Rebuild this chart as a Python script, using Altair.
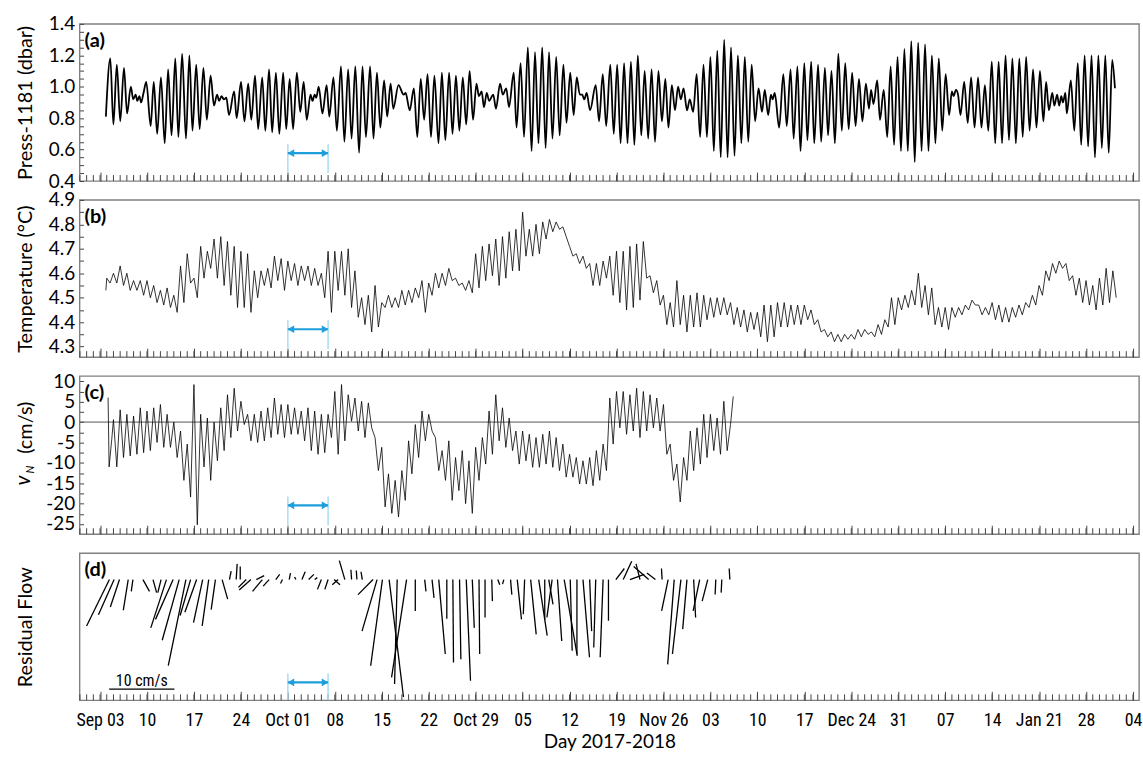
import altair as alt
import pandas as pd

# ---------------------------------------------------------------------------
# Time is counted in days after 3 Sep 2017 00:00 (first labelled Sunday).
# ---------------------------------------------------------------------------
X_DOMAIN = [-3.05, 154.9]
WEEK_TICKS = list(range(0, 155, 7))
WEEK_LABELS = ["Sep 03", "10", "17", "24", "Oct 01", "08", "15", "22", "Oct 29",
               "05", "12", "19", "Nov 26", "03", "10", "17", "Dec 24", "31",
               "07", "14", "Jan 21", "28", "04"]
DAY_TICKS = list(range(-3, 155))

# (a) bottom pressure, successive turning points (day, dbar)
PRESS = [
    (0.87, 0.81), (1.53, 1.18), (1.99, 0.76), (2.50, 1.14), (3.01, 0.78), (3.57, 1.12), (4.03, 0.83),
    (4.59, 1.00), (4.95, 0.92), (5.31, 0.95), (5.56, 0.91), (5.87, 0.94), (6.12, 0.90), (6.48, 0.96),
    (6.89, 1.03), (7.55, 0.75), (8.01, 1.03), (8.52, 0.70), (9.08, 1.06), (9.64, 0.64), (10.15, 1.11),
    (10.66, 0.69), (11.22, 1.18), (11.68, 0.68), (12.24, 1.21), (12.81, 0.67), (13.32, 1.20), (13.78, 0.72),
    (14.34, 1.14), (14.85, 0.73), (15.41, 1.12), (15.92, 0.79), (16.48, 1.07), (16.99, 0.88), (17.45, 0.95),
    (17.76, 0.91), (18.11, 0.94), (18.47, 0.92), (18.83, 0.93), (19.23, 0.82), (20.00, 0.97), (20.36, 0.80),
    (21.02, 1.03), (21.53, 0.78), (22.09, 1.02), (22.55, 0.79), (23.11, 1.07), (23.57, 0.73), (24.18, 1.06),
    (24.64, 0.72), (25.20, 1.11), (25.66, 0.71), (26.22, 1.09), (26.73, 0.70), (27.30, 1.09), (27.76, 0.73),
    (28.27, 1.05), (28.78, 0.73), (29.34, 1.09), (29.85, 0.84), (30.36, 1.03), (30.82, 0.79), (31.38, 0.95),
    (31.68, 0.91), (31.99, 0.95), (32.24, 0.93), (32.60, 1.00), (33.16, 0.83), (33.78, 1.01), (34.18, 0.81),
    (34.80, 1.06), (35.31, 0.72), (35.92, 1.13), (36.43, 0.65), (36.99, 1.11), (37.50, 0.67), (38.06, 1.13),
    (38.62, 0.58), (39.13, 1.13), (39.64, 0.68), (40.26, 1.13), (40.77, 0.67), (41.28, 1.09), (41.79, 0.74),
    (42.35, 1.04), (42.81, 0.81), (43.32, 1.02), (43.72, 0.86), (44.49, 1.01), (45.26, 0.95), (45.56, 0.96),
    (46.17, 0.85), (46.79, 0.99), (47.30, 0.68), (47.81, 1.05), (48.32, 0.79), (48.83, 1.08), (49.34, 0.68),
    (49.85, 1.07), (50.46, 0.64), (50.97, 1.09), (51.48, 0.66), (52.04, 1.09), (52.55, 0.70), (53.06, 1.07),
    (53.57, 0.72), (54.08, 1.06), (54.59, 0.76), (55.10, 1.10), (55.61, 0.79), (56.12, 1.02), (56.48, 0.94),
    (56.89, 0.97), (57.24, 0.87), (57.65, 0.96), (58.01, 0.91), (58.62, 0.95), (59.03, 0.86), (59.64, 1.02),
    (60.05, 0.95), (60.56, 0.99), (60.97, 0.87), (61.68, 1.09), (62.09, 0.74), (62.70, 1.15), (63.21, 0.68),
    (63.78, 1.25), (64.34, 0.59), (64.85, 1.22), (65.36, 0.64), (65.92, 1.25), (66.43, 0.61), (66.94, 1.22),
    (67.45, 0.67), (68.01, 1.19), (68.52, 0.69), (69.08, 1.14), (69.54, 0.77), (70.10, 1.09), (70.61, 0.82),
    (71.07, 1.06), (71.53, 0.95), (71.89, 0.95), (72.19, 0.92), (72.55, 0.96), (73.06, 0.85), (73.90, 1.01),
    (74.40, 0.78), (74.95, 1.08), (75.46, 0.75), (76.07, 1.14), (76.59, 0.70), (77.10, 1.14), (77.61, 0.64),
    (78.13, 1.15), (78.64, 0.64), (79.15, 1.16), (79.66, 0.63), (80.18, 1.20), (80.69, 0.69), (81.20, 1.10),
    (81.72, 0.67), (82.23, 1.11), (82.74, 0.65), (83.25, 1.10), (83.77, 0.78), (84.28, 1.05), (84.74, 0.74),
    (85.25, 1.01), (85.72, 0.85), (86.18, 1.00), (86.59, 0.92), (87.00, 0.99), (87.51, 0.85), (87.92, 0.92),
    (88.43, 0.84), (88.95, 1.08), (89.46, 0.68), (89.97, 1.14), (90.48, 0.68), (91.00, 1.19), (91.51, 0.59),
    (92.02, 1.23), (92.54, 0.55), (93.05, 1.30), (93.56, 0.55), (94.07, 1.25), (94.59, 0.56), (95.10, 1.20),
    (95.61, 0.64), (96.13, 1.19), (96.64, 0.65), (97.15, 1.14), (97.66, 0.78), (98.18, 0.99), (98.69, 0.84),
    (99.10, 0.98), (99.61, 0.82), (100.02, 0.95), (100.28, 0.92), (100.59, 0.96), (101.25, 0.74), (101.87, 1.08),
    (102.38, 0.75), (102.95, 1.11), (103.41, 0.67), (103.97, 1.13), (104.43, 0.59), (105.00, 1.15), (105.46, 0.66),
    (106.02, 1.16), (106.48, 0.64), (107.05, 1.14), (107.51, 0.65), (108.07, 1.12), (108.54, 0.69), (109.05, 1.10),
    (109.56, 0.64), (110.07, 1.21), (110.59, 0.72), (111.10, 1.15), (111.61, 0.73), (112.13, 1.09), (112.64, 0.75),
    (113.15, 1.05), (113.66, 0.78), (114.18, 1.02), (114.64, 0.86), (114.95, 0.98), (115.31, 0.89), (115.87, 1.04),
    (116.28, 0.79), (116.84, 0.98), (117.36, 0.68), (117.87, 1.13), (118.38, 0.63), (118.90, 1.19), (119.41, 0.59),
    (119.92, 1.24), (120.43, 0.59), (120.95, 1.29), (121.46, 0.52), (121.97, 1.28), (122.48, 0.59), (123.00, 1.27),
    (123.51, 0.59), (124.02, 1.20), (124.54, 0.64), (125.05, 1.18), (125.56, 0.72), (126.07, 1.08), (126.59, 0.82),
    (127.00, 0.97), (127.25, 0.94), (127.61, 0.98), (127.92, 0.95), (128.28, 0.82), (128.84, 1.03), (129.36, 0.77),
    (129.87, 1.06), (130.38, 0.74), (130.90, 1.06), (131.41, 0.74), (131.92, 1.01), (132.43, 0.72), (132.95, 1.16),
    (133.46, 0.64), (133.97, 1.16), (134.48, 0.64), (135.00, 1.20), (135.51, 0.66), (136.02, 1.18), (136.54, 0.64),
    (137.05, 1.18), (137.56, 0.68), (138.07, 1.19), (138.59, 0.72), (139.10, 1.11), (139.61, 0.74), (140.13, 1.10),
    (140.64, 0.78), (141.05, 1.03), (141.46, 0.85), (141.97, 0.96), (142.28, 0.88), (142.69, 0.95), (143.00, 0.88),
    (143.31, 0.94), (143.56, 0.90), (143.92, 0.96), (144.13, 0.83), (144.74, 1.04), (145.25, 0.72), (145.77, 1.15),
    (146.28, 0.63), (146.79, 1.20), (147.31, 0.62), (147.82, 1.20), (148.33, 0.55), (148.84, 1.20), (149.36, 0.61),
    (149.87, 1.20), (150.38, 0.58), (150.90, 1.17), (151.31, 0.99),
]

# (b) temperature: first sample, then daily (high, low) from day 1
TEMP_START = (0.87, 4.53)
TEMP_FIRST_DAY = 1
TEMP_DAILY = [
    (4.58, 4.56), (4.60, 4.56), (4.63, 4.55), (4.60, 4.53), (4.57, 4.53), (4.57, 4.51), (4.57, 4.50), (4.55, 4.48), (4.53, 4.47), (4.54, 4.46),
    (4.51, 4.44), (4.63, 4.48), (4.68, 4.56), (4.58, 4.50), (4.71, 4.58), (4.69, 4.62), (4.74, 4.58), (4.75, 4.55), (4.73, 4.51), (4.71, 4.46),
    (4.69, 4.46), (4.68, 4.44), (4.61, 4.50), (4.61, 4.55), (4.62, 4.54), (4.67, 4.57), (4.66, 4.53), (4.65, 4.57), (4.64, 4.55), (4.63, 4.57),
    (4.63, 4.55), (4.62, 4.55), (4.60, 4.50), (4.69, 4.44), (4.69, 4.53), (4.69, 4.51), (4.70, 4.46), (4.61, 4.42), (4.50, 4.39), (4.51, 4.36),
    (4.55, 4.38), (4.48, 4.46), (4.51, 4.46), (4.50, 4.46), (4.53, 4.47), (4.53, 4.48), (4.54, 4.50), (4.57, 4.44), (4.56, 4.51), (4.60, 4.54),
    (4.60, 4.55), (4.62, 4.57), (4.58, 4.55), (4.56, 4.53), (4.57, 4.52), (4.68, 4.54), (4.71, 4.57), (4.72, 4.59), (4.74, 4.55), (4.75, 4.58),
    (4.77, 4.61), (4.78, 4.61), (4.85, 4.67), (4.78, 4.67), (4.80, 4.68), (4.81, 4.74), (4.82, 4.77), (4.81, 4.78), (4.79, 4.75), (4.71, 4.67),
    (4.68, 4.64), (4.67, 4.62), (4.64, 4.55), (4.64, 4.55), (4.65, 4.58), (4.67, 4.51), (4.69, 4.48), (4.69, 4.45), (4.71, 4.46), (4.72, 4.49),
    (4.73, 4.58), (4.59, 4.52), (4.57, 4.47), (4.51, 4.39), (4.48, 4.38), (4.57, 4.39), (4.51, 4.36), (4.51, 4.38), (4.52, 4.38), (4.51, 4.41),
    (4.50, 4.42), (4.50, 4.43), (4.50, 4.43), (4.48, 4.39), (4.46, 4.38), (4.45, 4.36), (4.44, 4.37), (4.44, 4.34), (4.47, 4.32), (4.47, 4.34),
    (4.48, 4.38), (4.48, 4.38), (4.47, 4.39), (4.47, 4.39), (4.47, 4.41), (4.45, 4.39), (4.41, 4.36), (4.37, 4.34), (4.36, 4.32), (4.35, 4.32),
    (4.35, 4.33), (4.35, 4.33), (4.37, 4.34), (4.37, 4.35), (4.36, 4.34), (4.39, 4.35), (4.41, 4.38), (4.50, 4.39), (4.50, 4.45), (4.51, 4.46),
    (4.53, 4.47), (4.60, 4.46), (4.55, 4.43), (4.54, 4.39), (4.46, 4.38), (4.46, 4.37), (4.46, 4.42), (4.46, 4.43), (4.47, 4.45), (4.49, 4.47),
    (4.47, 4.43), (4.46, 4.43), (4.48, 4.41), (4.47, 4.40), (4.46, 4.40), (4.46, 4.42), (4.47, 4.43), (4.48, 4.46), (4.51, 4.47), (4.55, 4.51),
    (4.61, 4.57), (4.64, 4.60), (4.65, 4.62), (4.64, 4.57), (4.59, 4.51), (4.58, 4.48), (4.57, 4.47), (4.55, 4.45), (4.58, 4.47), (4.62, 4.48),
    (4.61, 4.50),
]

# (c) northward velocity: opening samples, daily (high, low) from day 2, closing samples
VN_START = [(1.20, 6.0), (1.35, -11.0), (1.75, -4.2)]
VN_FIRST_DAY = 2
VN_DAILY = [
    (0.6, -11.0), (3.0, -8.7), (1.9, -8.3), (1.5, -7.9), (3.5, -7.5), (2.7, -7.0), (3.5, -5.0), (4.3, -6.2), (1.9, -6.2),
    (0.0, -8.7), (-2.2, -14.3), (-5.4, -18.4), (9.2, -25.2), (1.9, -11.0), (1.0, -14.3), (0.0, -9.5), (3.5, -7.0), (6.7, -3.8), (8.3, -2.2),
    (5.1, -0.6), (1.9, -4.6), (1.9, -5.0), (2.7, -4.6), (3.5, -3.8), (5.9, -3.0), (4.3, -3.8), (4.3, -3.0), (3.5, -3.0), (2.7, -4.6),
    (3.5, -7.0), (2.7, -7.9), (1.9, -7.5), (1.9, -3.8), (7.5, -7.9), (9.2, -4.6), (6.7, 0.2), (5.9, -2.2), (5.1, -3.8), (4.7, -1.4),
    (-3.8, -11.9), (-6.2, -20.8), (-12.7, -22.4), (-14.3, -23.3), (-11.9, -19.2), (-4.6, -12.7), (-0.6, -8.7), (2.7, -4.6), (1.9, -2.2), (-3.8, -11.9),
    (-7.0, -14.3), (-4.6, -19.2), (-8.7, -16.8), (-7.0, -20.0), (-9.5, -22.4), (-6.2, -14.3), (-3.8, -10.3), (2.7, -7.9), (6.7, -4.6), (3.5, -6.2),
    (1.0, -7.0), (-2.2, -10.3), (-2.2, -9.5), (-3.0, -11.1), (-3.8, -11.1), (-3.0, -10.3), (-2.2, -11.1), (-3.8, -11.9), (-5.4, -13.5), (-7.9, -13.5),
    (-8.7, -15.2), (-9.5, -15.2), (-8.7, -15.6), (-7.0, -14.3), (-5.4, -11.9), (5.9, -5.4), (7.5, -1.4), (7.5, -3.0), (6.7, -2.2), (8.3, -3.8),
    (7.5, -2.2), (6.7, -1.4), (5.9, -2.2), (4.3, -7.9), (-5.4, -14.3), (-10.3, -19.6), (-8.7, -14.3), (-2.2, -11.9), (-1.4, -10.3), (1.9, -8.7),
    (1.9, -7.0), (1.0, -7.9), (5.1, -7.0),
]
VN_END = [(94.0, -0.6), (94.4, 6.3)]

# (d) daily residual-flow vectors (day, east cm/s, north cm/s)
STICKS = [
    (1.4, -3.5, -7.1), (2.1, -2.4, -5.4), (2.9, -1.4, -4.2), (4.2, -0.75, -4.7), (4.9, -0.25, -1.8),
    (6.4, 1.0, -1.8), (7.9, 0.55, -2.0), (9.1, -0.5, -2.0), (9.9, -2.4, -7.4), (10.9, -2.7, -6.1),
    (11.8, -2.6, -9.3), (12.8, -2.7, -13.2), (13.5, -1.6, -5.5), (14.4, -1.8, -5.0), (15.3, -1.4, -6.6),
    (16.2, -1.0, -7.1), (17.2, -0.65, -4.6), (18.2, 0.85, -3.0), (19.3, 0.25, 1.3), (20.3, 0.15, 2.4),
    (20.9, 0.0, 2.0), (21.8, -1.2, -1.2), (22.5, -1.8, -1.6), (23.3, 1.2, 0.6), (24.2, -1.5, -1.8),
    (25.2, -0.9, -1.0), (26.2, 0.6, 0.8), (27.2, -0.3, -0.6), (28.2, 0.2, 1.0), (29.2, -0.2, 0.4),
    (30.1, 0.5, 1.2), (31.1, 0.8, 0.8), (32.0, 0.4, 0.3), (33.0, -0.6, -1.5), (34.0, -0.5, -1.5),
    (34.9, 0.9, -0.8), (35.5, -0.9, -0.8), (36.5, -0.85, 2.9), (37.5, -0.1, 1.5), (38.3, -0.1, 1.4),
    (39.1, -0.2, 1.2), (40.7, -2.3, -2.3), (41.3, -2.3, -7.9), (42.1, -1.8, -13.2), (43.1, 2.2, -18.0),
    (44.3, -0.4, -16.0), (45.7, -2.3, -15.0), (47.0, 0.0, -4.8), (48.4, 0.2, -1.8), (49.5, 0.3, -2.8),
    (50.5, 1.0, -11.4), (51.7, 0.0, -6.0), (52.6, 0.1, -12.7), (53.6, 0.2, -12.2), (54.6, 0.65, -15.5),
    (55.5, 0.3, -7.4), (56.5, 0.1, -11.4), (57.4, 0.0, -5.8), (58.4, 0.1, -3.3), (59.3, 0.3, -0.8),
    (60.2, -0.2, -0.7), (61.2, 0.2, -2.3), (62.2, 0.65, -6.1), (63.3, -0.2, -5.3), (64.2, 0.85, -8.4),
    (65.4, 1.3, -8.6), (66.3, 0.0, -6.1), (66.9, 0.65, -3.8), (67.4, -0.8, -5.8), (68.2, 0.65, -9.4),
    (69.2, 2.0, -11.7), (70.1, 0.3, -10.9), (71.1, 0.0, -11.4), (72.0, 1.0, -11.9), (73.0, 0.3, -7.9),
    (73.9, -0.3, -10.4), (75.0, -0.45, -11.9), (75.8, 0.0, -6.3), (76.9, 1.3, 1.7), (78.0, 1.3, 2.8),
    (79.0, 2.2, 0.8), (80.5, -0.6, 2.4), (81.8, -2.3, 2.0), (82.8, -1.3, 1.0), (83.8, -0.1, 1.7),
    (84.7, -1.0, -4.8), (85.6, -1.0, -13.0), (86.6, -1.3, -11.4), (87.5, -0.65, -7.6), (88.5, 0.3, -5.8),
    (89.4, -1.0, -4.8), (90.6, -0.85, -3.3), (91.8, -0.1, -2.3), (92.7, -0.1, -2.0), (93.9, -0.1, 1.7),
]
SCALE_BAR_DAY = 1.36
SCALE_BAR_LEVEL = -16.8
SCALE_BAR_SPEED = 10

# highlighted interval (1-7 Oct 2017)
SPAN_DAYS = [28, 34]
PANEL_TAGS = ["(a)", "(b)", "(c)", "(d)"]

# ---------------------------------------------------------------------------
W = 1065
H_A, H_B, H_C, H_D = 158, 158, 159, 148
Y_A = [0.4, 1.4]
Y_B = [4.257, 4.9]
Y_C = [-27.5, 11.3]
Y_D = [-18.5, 4.06]

FONT = "Lato, 'Open Sans', sans-serif"
NARROW = "'Noto Sans Condensed', 'Roboto Condensed', 'Liberation Sans Narrow', Roboto, sans-serif"
ARROW_BLUE = "#1e9fdc"
LIGHT_BLUE = "#a9dcf4"
TICK_GRAY = "#444444"

X_SCALE = alt.Scale(domain=X_DOMAIN, nice=False, zero=False)
LABEL_EXPR = "[" + ",".join("'%s'" % s for s in WEEK_LABELS) + "][round(datum.value / 7)]"


def x_axis(with_labels):
    kw = dict(values=WEEK_TICKS, tickSize=9, offset=-9, domain=False, grid=False,
              tickColor=TICK_GRAY, tickWidth=1)
    if with_labels:
        kw.update(labels=True, labelExpr=LABEL_EXPR, labelFont=NARROW, labelFontSize=18,
                  labelColor="black", labelPadding=11, labelOverlap=False, labelFlush=False,
                  title="Day 2017-2018", titleFont=FONT, titleFontSize=19,
                  titleFontWeight="normal", titleColor="black", titlePadding=3)
    else:
        kw.update(labels=False, title=None)
    return alt.Axis(**kw)


def y_axis(h, title, values=None, label_expr=None):
    kw = dict(domain=False, grid=False, offset=-4, titleFont=FONT, titleFontSize=20,
              titleFontWeight="normal", titleColor="black", titleAngle=270, titleX=-52,
              titleY=h / 2, titleAlign="center", titleBaseline="alphabetic", title=title)
    if values is None:
        kw.update(ticks=False, labels=False)
    else:
        kw.update(values=values, tickSize=4, tickColor=TICK_GRAY, labelExpr=label_expr,
                  labelFont=FONT, labelFontSize=19, labelColor="black", labelPadding=5,
                  labelOverlap=False, labelFlush=False)
    return alt.Axis(**kw)


def decorations(h, tag, xa):
    X = alt.X("day:Q", scale=X_SCALE, axis=xa)
    ticks_df = pd.DataFrame({"day": DAY_TICKS})
    span_df = pd.DataFrame({"day": SPAN_DAYS})
    arrow_df = pd.DataFrame({"day": [SPAN_DAYS[0]], "day_end": [SPAN_DAYS[1]]})
    tag_df = pd.DataFrame({"tag": [tag]})
    arrow_y = 130
    minor = alt.Chart(ticks_df).mark_rule(color=TICK_GRAY, strokeWidth=1).encode(
        x=X, y=alt.value(h - 6), y2=alt.value(h))
    guides = alt.Chart(span_df).mark_rule(color=LIGHT_BLUE, strokeWidth=1.5).encode(
        x=X, y=alt.value(121), y2=alt.value(min(150, h)))
    shaft = alt.Chart(arrow_df).mark_rule(color=ARROW_BLUE, strokeWidth=2.2).encode(
        x=X, x2=alt.X2("day_end"), y=alt.value(arrow_y))
    head_l = alt.Chart(arrow_df).mark_point(shape="triangle-left", filled=True, size=60,
                                            color=ARROW_BLUE, opacity=1, xOffset=3).encode(
        x=X, y=alt.value(arrow_y))
    head_r = alt.Chart(arrow_df).mark_point(shape="triangle-right", filled=True, size=60,
                                            color=ARROW_BLUE, opacity=1, xOffset=-3).encode(
        x=alt.X("day_end:Q", scale=X_SCALE, axis=xa), y=alt.value(arrow_y))
    label = alt.Chart(tag_df).mark_text(align="left", baseline="middle", font=FONT,
                                        fontSize=20, fontWeight="bold", color="black").encode(
        x=alt.value(5), y=alt.value(17), text="tag:N")
    return [minor, guides, shaft, head_l, head_r, label]


# ----- (a) pressure -----
press_df = pd.DataFrame(PRESS, columns=["day", "dbar"])
xa_a = x_axis(False)
Xa = alt.X("day:Q", scale=X_SCALE, axis=xa_a)
a_vals = [round(0.4 + 0.05 * i, 2) for i in range(21)]
Ya = alt.Y("dbar:Q", scale=alt.Scale(domain=Y_A, nice=False, zero=False),
           axis=y_axis(H_A, "Press-1181 (dbar)", a_vals,
                       "(round(datum.value * 100) % 20 == 0) ? format(datum.value, '.1f') : ''"))
line_a = alt.Chart(press_df).mark_line(color="black", strokeWidth=1.8,
                                       interpolate="monotone").encode(x=Xa, y=Ya)
panel_a = alt.layer(line_a, *decorations(H_A, PANEL_TAGS[0], xa_a)).properties(width=W, height=H_A)

# ----- (b) temperature -----
temp_rows = [TEMP_START]
for i, (hi, lo) in enumerate(TEMP_DAILY):
    d = TEMP_FIRST_DAY + i
    temp_rows += [(d, hi), (d + 0.5, lo)]
temp_df = pd.DataFrame(temp_rows, columns=["day", "degc"])
xa_b = x_axis(False)
Xb = alt.X("day:Q", scale=X_SCALE, axis=xa_b)
b_vals = [round(4.3 + 0.05 * i, 2) for i in range(13)]
Yb = alt.Y("degc:Q", scale=alt.Scale(domain=Y_B, nice=False, zero=False),
           axis=y_axis(H_B, "Temperature (°C)", b_vals,
                       "(round(datum.value * 100) % 10 == 0) ? format(datum.value, '.1f') : ''"))
line_b = alt.Chart(temp_df).mark_line(color="black", strokeWidth=0.8).encode(x=Xb, y=Yb)
panel_b = alt.layer(line_b, *decorations(H_B, PANEL_TAGS[1], xa_b)).properties(width=W, height=H_B)

# ----- (c) northward velocity -----
vn_rows = list(VN_START)
for i, (hi, lo) in enumerate(VN_DAILY):
    d = VN_FIRST_DAY + i
    vn_rows += [(d, hi), (d + 0.5, lo)]
vn_rows += VN_END
vn_df = pd.DataFrame(vn_rows, columns=["day", "vn"])
xa_c = x_axis(False)
Xc = alt.X("day:Q", scale=X_SCALE, axis=xa_c)
c_vals = [v / 2 for v in range(-50, 21, 5)]
Yc = alt.Y("vn:Q", scale=alt.Scale(domain=Y_C, nice=False, zero=False),
           axis=y_axis(H_C, None, c_vals,
                       "(datum.value % 5 == 0) ? ((datum.value < 0 ? '-' : '') + abs(datum.value)) : ''"))
line_c = alt.Chart(vn_df).mark_line(color="black", strokeWidth=0.8).encode(x=Xc, y=Yc)
zero_c = alt.Chart(pd.DataFrame({"vn": [0.0]})).mark_rule(color="#555555", strokeWidth=1).encode(y=Yc)
title_parts = pd.DataFrame({"t": ["(cm/s)", "v", "N"]})
t_units = alt.Chart(title_parts.iloc[[0]]).mark_text(angle=270, align="center", baseline="alphabetic",
                                                    font=FONT, fontSize=20, color="black").encode(
    x=alt.value(-48), y=alt.value(52), text="t:N")
t_v = alt.Chart(title_parts.iloc[[1]]).mark_text(angle=270, align="center", baseline="alphabetic",
                                                font=FONT, fontSize=21, fontStyle="italic", color="black").encode(
    x=alt.value(-50), y=alt.value(105), text="t:N")
t_n = alt.Chart(title_parts.iloc[[2]]).mark_text(angle=270, align="center", baseline="alphabetic",
                                                font=FONT, fontSize=11, fontStyle="italic", color="black").encode(
    x=alt.value(-46), y=alt.value(94), text="t:N")
panel_c = alt.layer(zero_c, line_c, t_units, t_v, t_n,
                    *decorations(H_C, PANEL_TAGS[2], xa_c)).properties(width=W, height=H_C)

# ----- (d) residual-flow sticks, same px per cm/s on both axes -----
px_per_day = W / (X_DOMAIN[1] - X_DOMAIN[0])
px_per_cms = H_D / (Y_D[1] - Y_D[0])
days_per_cms = px_per_cms / px_per_day

stick_df = pd.DataFrame(STICKS, columns=["day", "u", "v"])
stick_df["day_end"] = stick_df["day"] + stick_df["u"] * days_per_cms
stick_df["base"] = 0.0
bar_end = SCALE_BAR_DAY + SCALE_BAR_SPEED * days_per_cms
bar_df = pd.DataFrame({"day": [SCALE_BAR_DAY], "day_end": [bar_end], "level": [SCALE_BAR_LEVEL],
                       "mid": [(SCALE_BAR_DAY + bar_end) / 2],
                       "txt": ["%d cm/s" % SCALE_BAR_SPEED]})

xa_d = x_axis(True)
Xd = alt.X("day:Q", scale=X_SCALE, axis=xa_d)
yd_scale = alt.Scale(domain=Y_D, nice=False, zero=False)
yd_axis = y_axis(H_D, "Residual Flow")
sticks = alt.Chart(stick_df).mark_rule(color="black", strokeWidth=1.3).encode(
    x=Xd, x2=alt.X2("day_end"), y=alt.Y("base:Q", scale=yd_scale, axis=yd_axis), y2=alt.Y2("v"))
bar = alt.Chart(bar_df).mark_rule(color="black", strokeWidth=1.3).encode(
    x=Xd, x2=alt.X2("day_end"), y=alt.Y("level:Q", scale=yd_scale, axis=yd_axis))
bar_txt = alt.Chart(bar_df).mark_text(baseline="alphabetic", align="center", dy=-3,
                                      font=NARROW, fontSize=16, color="black").encode(
    x=alt.X("mid:Q", scale=X_SCALE, axis=xa_d),
    y=alt.Y("level:Q", scale=yd_scale, axis=yd_axis), text="txt:N")
panel_d = alt.layer(sticks, bar, bar_txt,
                    *decorations(H_D, PANEL_TAGS[3], xa_d)).properties(width=W, height=H_D)

chart = alt.vconcat(panel_a, panel_b, panel_c, panel_d, spacing=19, bounds="flush").properties(
    padding={"left": 12, "top": 12, "right": 0, "bottom": 2},
    background="white",
).configure_view(stroke="#808080", strokeWidth=1.4)

chart.save("out.html", embed_options={"renderer": "svg", "actions": False})
